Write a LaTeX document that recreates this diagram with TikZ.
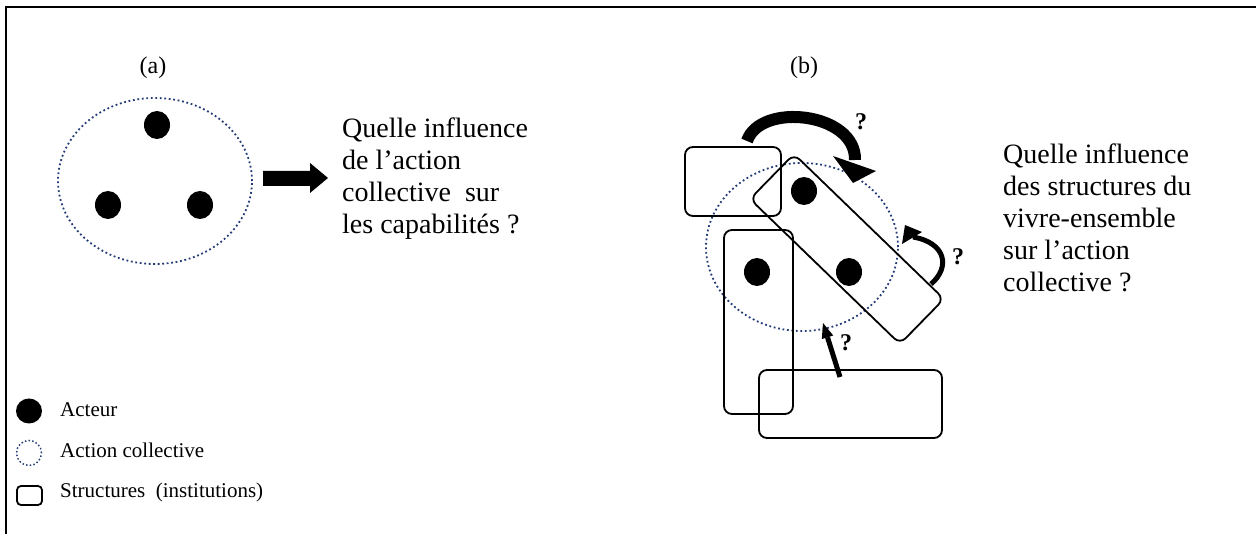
\documentclass[tikz,border=0pt]{standalone}
\usepackage{fontspec}
\setmainfont{Liberation Serif}
\usetikzlibrary{shapes.geometric}
\definecolor{navy}{RGB}{35,60,120}
\begin{document}
\begin{tikzpicture}[x=1pt,y=-1pt,
  actor/.style={shape=ellipse,fill=black,inner sep=0pt,minimum width=26pt,minimum height=28pt},
  coll/.style={shape=ellipse,draw=navy,line width=1.8pt,dash pattern=on 1.8pt off 2.7pt,inner sep=0pt},
  struct/.style={draw=black,line width=1.8pt,rounded corners=8pt},
  bigtxt/.style={anchor=north west,inner sep=0pt,align=left,font=\fontsize{28}{32}\selectfont},
  lbl/.style={inner sep=0pt,font=\fontsize{24}{28}\selectfont},
  legtxt/.style={anchor=base west,inner sep=0pt,font=\fontsize{21}{25}\selectfont},
  qmark/.style={inner sep=0pt,font=\fontsize{24}{28}\selectfont\bfseries}]
\useasboundingbox (0,0) rectangle (1259,534);
% frame
\draw[line width=2pt] (6,534) -- (6,7) -- (1256,7);
% (a)
\node[lbl] (la) at (153,68) {(a)};
\node[coll,minimum width=194pt,minimum height=166pt] (ca) at (155,181) {};
\node[actor] (a1) at (157,125) {};
\node[actor] (a2) at (108,205) {};
\node[actor] (a3) at (200,205) {};
\fill (263,171) -- (310,171) -- (310,163) -- (328,178) -- (310,193) -- (310,186) -- (263,186) -- cycle;
\node[bigtxt] (ta) at (342,117.5) {Quelle influence\\de l’action\\collective~~sur\\les capabilités ?};
% (b)
\node[lbl] (lb) at (804,68) {(b)};
\node[coll,minimum width=192pt,minimum height=168pt] (cb) at (802,247) {};
\draw[struct] (685,147) rectangle (781,216);
\draw[struct] (724,230) rectangle (793,414);
\draw[struct] (759,370) rectangle (942,438);
\draw[struct] (869,226.5) -- (944,299) -- (900,344) -- (750,199) -- (794,154) -- cycle;
\node[actor] (b1) at (804,191) {};
\node[actor] (b2) at (757,272) {};
\node[actor] (b3) at (849,272) {};
% top curved arrow
\draw[line width=12pt] (747,141) .. controls (760,102) and (856,112) .. (855,160);
\fill (833,156) -- (853,183) -- (876,171) -- cycle;
\node[qmark] (q1) at (861,122) {?};
% right small curved arrow
\draw[line width=5pt] (931,284) .. controls (950,268) and (947,243) .. (913,237);
\fill (905,225) -- (902,244) -- (922,232) -- cycle;
\node[qmark] (q2) at (958,257) {?};
% bottom straight arrow
\draw[line width=5pt] (840,377) -- (827.5,337.3);
\fill (823,323) -- (833.2,335.5) -- (821.8,339.1) -- cycle;
\node[qmark] (q3) at (846,343) {?};
\node[bigtxt] (tb) at (1003,143.5) {Quelle influence\\des structures du\\vivre-ensemble\\sur l’action\\collective ?};
% legend
\node[actor,minimum width=26pt,minimum height=25pt] (l1) at (29,411) {};
\node[legtxt] (t1) at (60,417) {Acteur};
\node[coll,line width=1.5pt,dash pattern=on 1.5pt off 2.2pt,minimum width=25pt,minimum height=25pt] (l2) at (29,453) {};
\node[legtxt] (t2) at (60,458) {Action collective};
\draw[draw=black,line width=1.8pt,rounded corners=4pt] (17,486) rectangle (42,505);
\node[legtxt] (t3) at (60,497) {Structures~~(institutions)};
\end{tikzpicture}
\end{document}
